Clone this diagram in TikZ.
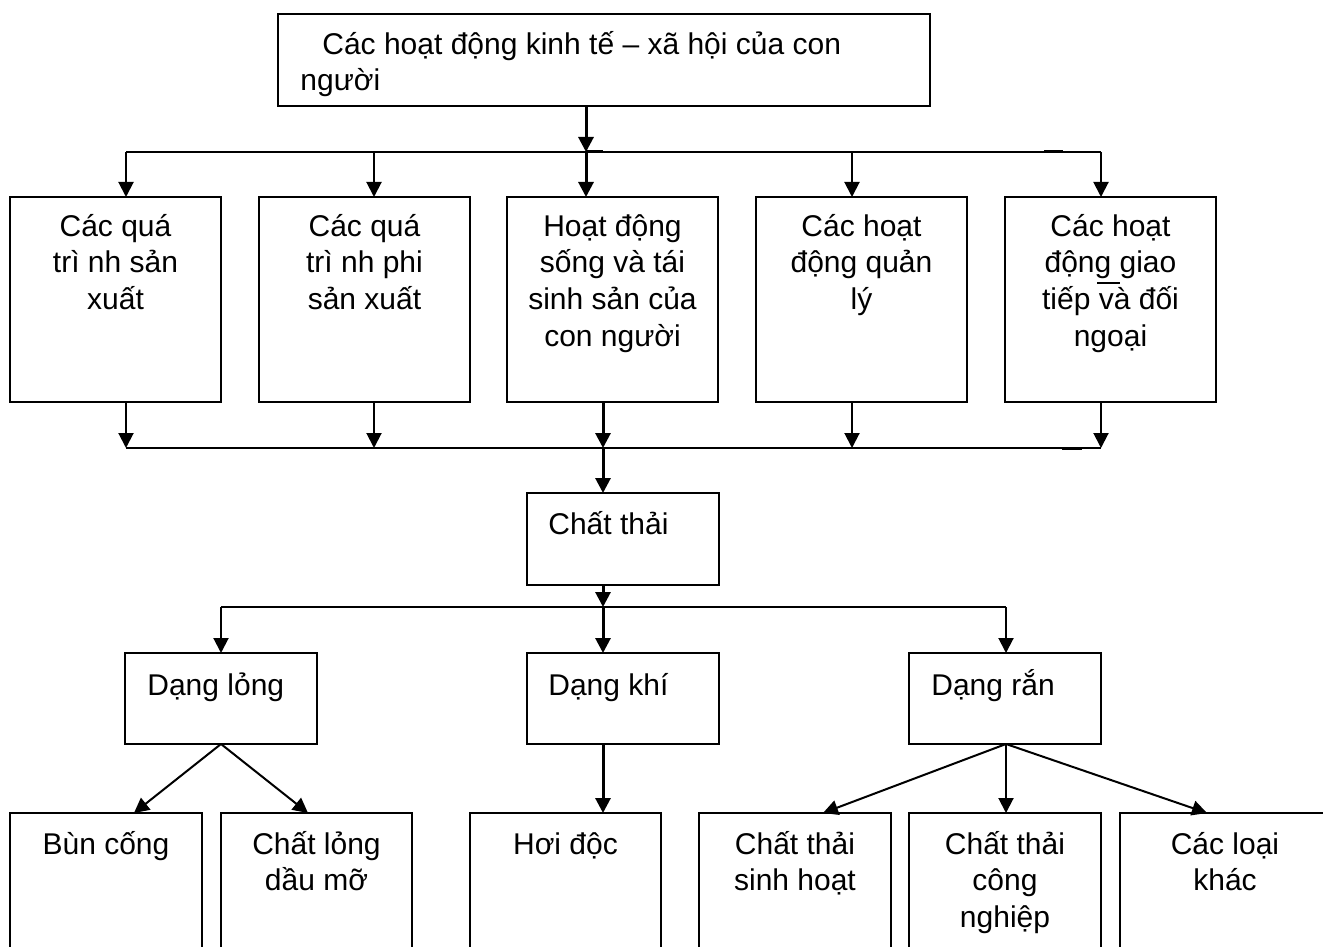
\documentclass[tikz,border=0pt]{standalone}
\usepackage{fontspec}
\setmainfont{Liberation Sans}
\usetikzlibrary{arrows.meta}

\begin{document}
\begin{tikzpicture}[x=0.5pt,y=-0.5pt,
  box/.style={draw, line width=1pt, inner sep=0pt, outer sep=0pt, anchor=north west},
  txt/.style={font=\fontsize{15}{18.35}\selectfont, align=center, inner sep=0pt, anchor=base},
  ltxt/.style={font=\fontsize{15}{18.35}\selectfont, inner sep=0pt, anchor=base west},
  link/.style={line width=1pt},
  heavy/.style={line width=1.5pt},
  tip/.style={-{Triangle[length=7.5pt,width=7.5pt]}},
  arr/.style={link, tip},
  bigarr/.style={heavy, tip}]

\useasboundingbox (0,0) rectangle (1323,947);
\clip (0,0) rectangle (1323,947);

% boxes
\node[box, minimum width=326pt, minimum height=46pt] (top) at (278,14) {};
\node[box, minimum width=105.5pt, minimum height=102.5pt] (m1) at (10,197) {};
\node[box, minimum width=105.5pt, minimum height=102.5pt] (m2) at (259,197) {};
\node[box, minimum width=105.5pt, minimum height=102.5pt] (m3) at (507,197) {};
\node[box, minimum width=105.5pt, minimum height=102.5pt] (m4) at (756,197) {};
\node[box, minimum width=105.5pt, minimum height=102.5pt] (m5) at (1005,197) {};
\node[box, minimum width=96pt, minimum height=46pt] (waste) at (527,493) {};
\node[box, minimum width=96pt, minimum height=45.5pt] (liquid) at (125,653) {};
\node[box, minimum width=96pt, minimum height=45.5pt] (gas) at (527,653) {};
\node[box, minimum width=96pt, minimum height=45.5pt] (solid) at (909,653) {};
\node[box, minimum width=96pt, minimum height=80pt] (b1) at (10,813) {};
\node[box, minimum width=95.5pt, minimum height=80pt] (b2) at (221,813) {};
\node[box, minimum width=95.5pt, minimum height=80pt] (b3) at (470,813) {};
\node[box, minimum width=96pt, minimum height=80pt] (b4) at (699,813) {};
\node[box, minimum width=96pt, minimum height=80pt] (b5) at (909,813) {};
\node[box, minimum width=110pt, minimum height=80pt] (b6) at (1120,813) {};

% texts
\node[ltxt] (topA) at (322,55) {Các hoạt động kinh tế – xã hội của con};
\node[ltxt] (topB) at (300,91) {người};
\node[txt] (t1) at (m1.north |- 0,309.4) {Các quá\\trì nh sản\\xuất};
\node[txt] (t2) at (m2.north |- 0,309.4) {Các quá\\trì nh phi\\sản xuất};
\node[txt] (t3) at (m3.north |- 0,346.1) {Hoạt động\\sống và tái\\sinh sản của\\con người};
\node[txt] (t4) at (m4.north |- 0,309.4) {Các hoạt\\động quản\\lý};
\node[txt] (t5) at (m5.north |- 0,346.1) {Các hoạt\\động giao\\tiếp và đối\\ngoại};
\draw[line width=0.7pt] (1097,283) -- (1120,283);
\node[ltxt] (tw) at (548,534) {Chất thải};
\node[ltxt] (tl) at (147,695) {Dạng lỏng};
\node[ltxt] (tg) at (548,695) {Dạng khí};
\node[ltxt] (ts) at (931,695) {Dạng rắn};
\node[txt] (u1) at (b1.north |- 0,854) {Bùn cống};
\node[txt] (u2) at (b2.north |- 0,890.7) {Chất lỏng\\dầu mỡ};
\node[txt] (u3) at (b3.north |- 0,854) {Hơi độc};
\node[txt] (u4) at (b4.north |- 0,890.7) {Chất thải\\sinh hoạt};
\node[txt] (u5) at (b5.north |- 0,927.4) {Chất thải\\công\\nghiệp};
\node[txt] (u6) at (1225,890.7) {Các loại\\khác};

% upper distribution bus
\coordinate (busA) at (586,152);
\coordinate (busAL) at (126,152);
\coordinate (busAR) at (1101,152);
\draw[link] (busAL) -- (busAR);
\draw[heavy] (busA) -- (603,152);
\draw[heavy] (1044,152) -- (1063,152);
\draw[bigarr] (top.south -| busA) -- (busA);
\draw[arr] (busAL) -- (busAL |- m1.north);
\draw[arr] (374,152) -- (374,197);
\draw[bigarr] (busA) -- (busA |- m3.north);
\draw[arr] (852,152) -- (852,197);
\draw[arr] (busAR) -- (busAR |- m5.north);

% lower collecting bus
\coordinate (busB) at (603,448);
\coordinate (busBL) at (126,448);
\coordinate (busBR) at (1101,448);
\draw[link] (busBL) -- (busBR);
\draw[heavy] (1062,448) -- (1082,448);
\draw[arr] (busBL |- m1.south) -- (busBL);
\draw[arr] (374,402) -- (374,448);
\draw[bigarr] (busB |- m3.south) -- (busB);
\draw[arr] (852,402) -- (852,448);
\draw[arr] (busBR |- m5.south) -- (busBR);
\draw[bigarr] (busB) -- (busB |- waste.north);

% waste forms
\coordinate (busC) at (603,607);
\coordinate (busCL) at (221,607);
\coordinate (busCR) at (1006,607);
\draw[bigarr] (waste.south -| busC) -- (busC);
\draw[link] (busCL) -- (busCR);
\draw[arr] (busCL) -- (busCL |- liquid.north);
\draw[bigarr] (busC) -- (busC |- gas.north);
\draw[arr] (busCR) -- (busCR |- solid.north);

% sub-categories
\coordinate (lq) at (221,744);
\draw[arr] (lq) -- (134,813);
\draw[arr] (lq) -- (308,813);
\draw[bigarr] (gas.south -| busC) -- (busC |- b3.north);
\coordinate (sd) at (1006,744);
\draw[arr] (sd) -- (823,813);
\draw[arr] (sd) -- (1006,813);
\draw[arr] (sd) -- (1207,813);
\end{tikzpicture}
\end{document}
